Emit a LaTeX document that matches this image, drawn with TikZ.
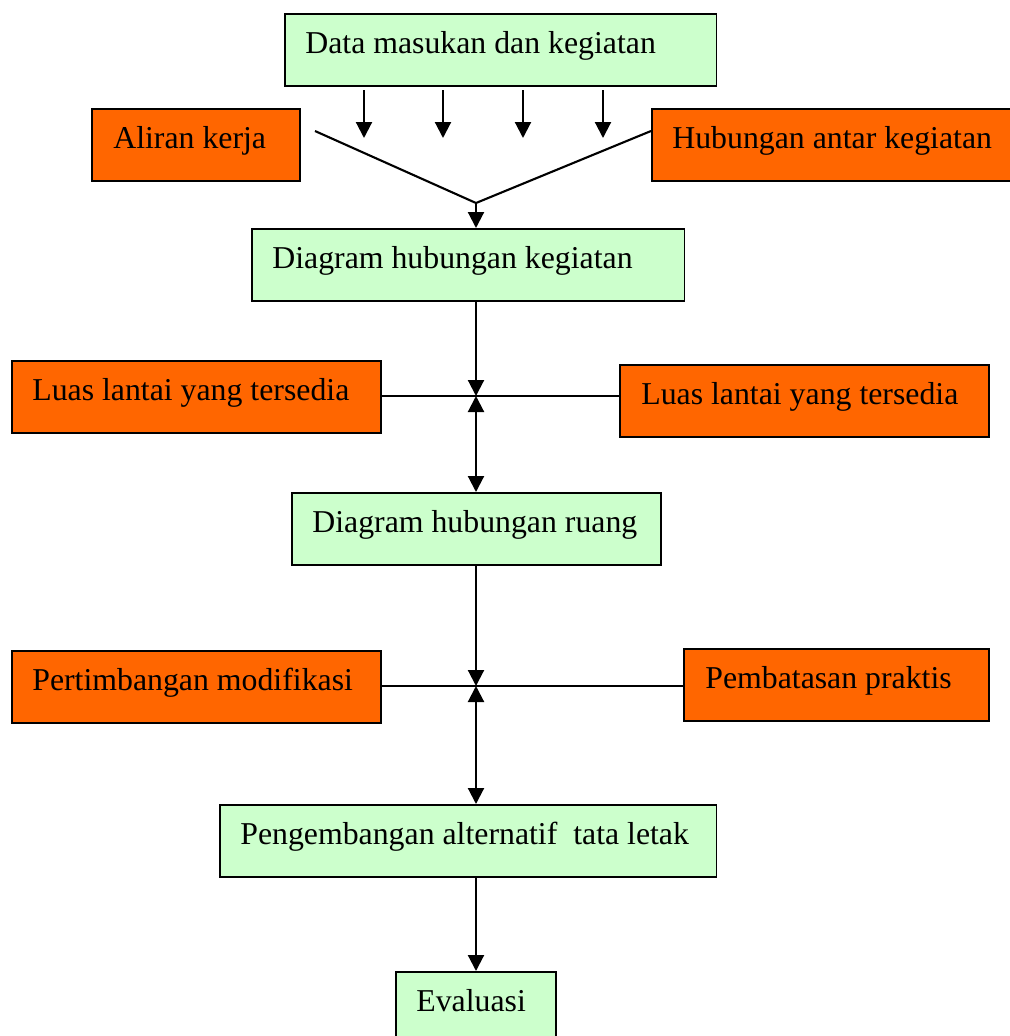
\documentclass[tikz,border=0pt]{standalone}
\usepackage{fontspec}
\setmainfont{Liberation Serif}
\usetikzlibrary{arrows.meta}
\definecolor{stagegreen}{HTML}{CCFFCC}
\definecolor{inputorange}{HTML}{FF6600}
\begin{document}
\begin{tikzpicture}[x=0.02cm, y=-0.02cm,
  stagebox/.style={draw=black, line width=0.9pt, fill=stagegreen, anchor=north west,
    minimum height=1.44cm, inner sep=0pt},
  inputbox/.style={stagebox, fill=inputorange},
  boxtext/.style={anchor=base west, inner sep=0pt, font=\fontsize{18.1}{21}\selectfont},
  flowline/.style={line width=1.2pt},
  flowarrow/.style={flowline, -{Triangle[length=0.32cm, width=0.32cm]}},
  twoway/.style={flowline, {Triangle[length=0.32cm, width=0.32cm]}-{Triangle[length=0.32cm, width=0.32cm]}}]
\useasboundingbox (0,0) rectangle (1010,1036);

% boxes
\node[stagebox, minimum width=8.64cm] (data) at (284,13) {};
\node[inputbox, minimum width=4.16cm] (aliran) at (91,108) {};
\node[inputbox, minimum width=7.30cm] (hubungan) at (651,108) {};
\node[stagebox, minimum width=8.66cm] (dhk) at (251,228) {};
\node[inputbox, minimum width=7.38cm] (luasL) at (11,360) {};
\node[inputbox, minimum width=7.38cm] (luasR) at (619,364) {};
\node[stagebox, minimum width=7.38cm] (dhr) at (291,492) {};
\node[inputbox, minimum width=7.38cm] (pert) at (11,650) {};
\node[inputbox, minimum width=6.10cm] (pemb) at (683,648) {};
\node[stagebox, minimum width=9.94cm] (peng) at (219,804) {};
\node[stagebox, minimum width=3.20cm, minimum height=1.6cm] (eval) at (395,971) {};

% box texts
\node[boxtext] (dataT) at ([xshift=0.42cm, yshift=-0.8cm]data.north west) {Data masukan dan kegiatan};
\node[boxtext] (aliranT) at ([xshift=0.44cm, yshift=-0.8cm]aliran.north west) {Aliran kerja};
\node[boxtext] (hubunganT) at ([xshift=0.42cm, yshift=-0.8cm]hubungan.north west) {Hubungan antar kegiatan};
\node[boxtext] (dhkT) at ([xshift=0.42cm, yshift=-0.8cm]dhk.north west) {Diagram hubungan kegiatan};
\node[boxtext] (luasLT) at ([xshift=0.42cm, yshift=-0.8cm]luasL.north west) {Luas lantai yang tersedia};
\node[boxtext] (luasRT) at ([xshift=0.44cm, yshift=-0.8cm]luasR.north west) {Luas lantai yang tersedia};
\node[boxtext] (dhrT) at ([xshift=0.42cm, yshift=-0.8cm]dhr.north west) {Diagram hubungan ruang};
\node[boxtext] (pertT) at ([xshift=0.42cm, yshift=-0.8cm]pert.north west) {Pertimbangan modifikasi};
\node[boxtext] (pembT) at ([xshift=0.44cm, yshift=-0.8cm]pemb.north west) {Pembatasan praktis};
\node[boxtext] (pengT) at ([xshift=0.42cm, yshift=-0.8cm]peng.north west) {Pengembangan alternatif\ \ tata letak};
\node[boxtext] (evalT) at ([xshift=0.42cm, yshift=-0.8cm]eval.north west) {Evaluasi};

% input arrows below the data box
\foreach \px [count=\i] in {364,443,523,603} {
  \coordinate (inTop\i) at (\px,90);
  \coordinate (inEnd\i) at (\px,138);
  \draw[flowarrow] (inTop\i) -- (inEnd\i);
}

% converging lines
\coordinate (aliranEnd) at (315,131);
\coordinate (hubStart) at (651,131);
\coordinate (merge) at (476,203);
\draw[flowline] (aliranEnd) -- (merge) -- (hubStart);
\draw[flowarrow] (merge) -- (merge |- dhk.north);

% first junction
\coordinate (junctionA) at (476,396);
\draw[flowarrow] (junctionA |- dhk.south) -- (junctionA);
\draw[flowline] (luasL.east |- junctionA) -- (luasR.west |- junctionA);
\draw[twoway] (junctionA) -- (junctionA |- dhr.north);

% second junction
\coordinate (junctionB) at (476,686);
\draw[flowarrow] (junctionB |- dhr.south) -- (junctionB);
\draw[flowline] (pert.east |- junctionB) -- (pemb.west |- junctionB);
\draw[twoway] (junctionB) -- (junctionB |- peng.north);

% to evaluation
\draw[flowarrow] (junctionB |- peng.south) -- (junctionB |- eval.north);
\end{tikzpicture}
\end{document}
